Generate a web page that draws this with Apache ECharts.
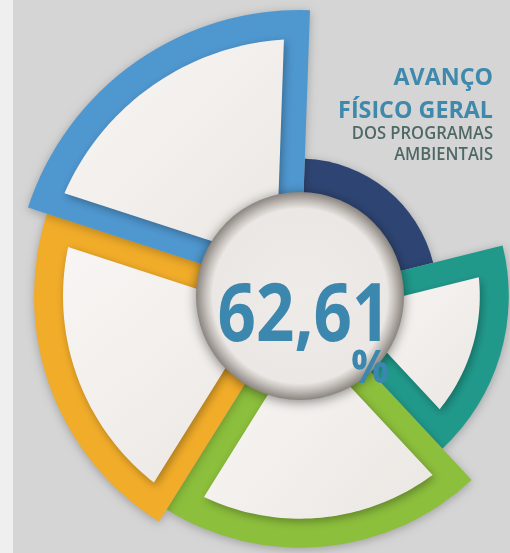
<!DOCTYPE html>
<html>
<head>
<meta charset="utf-8">
<script src="https://cdn.jsdelivr.net/npm/echarts@6/dist/echarts.min.js"></script>
<style>
  html, body { margin: 0; padding: 0; background: #d5d5d5; }
  #chart { width: 510px; height: 553px; }
</style>
</head>
<body>
<div id="chart"></div>
<script>
// angular share of each program (degrees, clockwise from the top)
const shares = [74, 61, 75, 76, 74];
// radial length of each program (0..100)
const progress = [48, 73, 88, 93, 100];
// overall value shown in the middle
const overall = 62.61;

const titleLines = ['AVANÇO', 'FÍSICO GERAL'];
const subtitleLines = ['DOS PROGRAMAS', 'AMBIENTAIS'];

// styles
const colors = ['#2e4573', '#20998b', '#8cbf3c', '#f1ac29', '#4f97cf'];
const CENTER = [300, 296];
const OUTER_R = 286;
const HUB_R = 104;
const RIM = 29;   // coloured band along the arc
const SIDE = 25;  // coloured band along the straight edges

const chart = echarts.init(document.getElementById('chart'));

// build [start, end, progress] rows from the arrays
let acc = 0;
const rows = shares.map((s, i) => {
  const row = [acc, acc + s, progress[i]];
  acc += s;
  return row;
});

function renderItem(params, api) {
  const cx = params.coordSys.cx, cy = params.coordSys.cy;
  const rv = api.value(2);
  const pS = api.coord([rv, api.value(0)]);
  const pE = api.coord([rv, api.value(1)]);
  const r = Math.hypot(pS[0] - cx, pS[1] - cy);
  const ts = Math.atan2(pS[1] - cy, pS[0] - cx);
  let te = Math.atan2(pE[1] - cy, pE[0] - cx);
  while (te <= ts) te += Math.PI * 2;
  const color = colors[params.dataIndex];

  const children = [{
    type: 'sector',
    shape: { cx: cx, cy: cy, r0: 0, r: r, startAngle: ts, endAngle: te, clockwise: true },
    style: { fill: color, shadowBlur: 10, shadowColor: 'rgba(0,0,0,0.25)', shadowOffsetY: 2 }
  }];

  // light inset face of the sector
  const ri = r - RIM;
  if (ri > HUB_R + 8) {
    const half = (te - ts) / 2;
    const d = SIDE / Math.sin(half);
    const mid = ts + half;
    const pts = [[cx + d * Math.cos(mid), cy + d * Math.sin(mid)]];
    const a0 = ts + Math.asin(SIDE / ri);
    const a1 = te - Math.asin(SIDE / ri);
    const n = 48;
    for (let k = 0; k <= n; k++) {
      const a = a0 + (a1 - a0) * k / n;
      pts.push([cx + ri * Math.cos(a), cy + ri * Math.sin(a)]);
    }
    children.push({
      type: 'polygon',
      shape: { points: pts },
      style: {
        fill: new echarts.graphic.LinearGradient(0, 0, 1, 1, [
          { offset: 0, color: '#f8f6f4' },
          { offset: 1, color: '#ebe7e3' }
        ]),
        shadowBlur: 8,
        shadowColor: 'rgba(0,0,0,0.3)',
        shadowOffsetX: 2,
        shadowOffsetY: 3
      }
    });
  }
  return { type: 'group', children: children };
}

const fmt = overall.toFixed(2).replace('.', ',');

function label(text, x, y, font, fill, align, sx) {
  return {
    type: 'text',
    x: x, y: y, scaleX: sx, z: 10,
    style: { text: text, font: font, fill: fill, textAlign: align, textVerticalAlign: 'bottom' }
  };
}

chart.setOption({
  backgroundColor: '#d5d5d5',
  polar: { center: CENTER, radius: [0, OUTER_R] },
  angleAxis: { type: 'value', min: 0, max: acc, startAngle: 88, clockwise: true, show: false },
  radiusAxis: { type: 'value', min: 0, max: 100, show: false },
  series: [{
    type: 'custom',
    coordinateSystem: 'polar',
    renderItem: renderItem,
    encode: { radius: 2, angle: [0, 1] },
    data: rows,
    animation: false
  }],
  graphic: [
    { type: 'rect', shape: { x: 0, y: 0, width: 13, height: 553 }, style: { fill: '#efefef' }, z: 1 },
    {
      type: 'circle', z: 5,
      shape: { cx: CENTER[0], cy: CENTER[1], r: HUB_R },
      style: {
        fill: new echarts.graphic.RadialGradient(0.5, 0.5, 0.5, [
          { offset: 0, color: '#efebe8' },
          { offset: 0.84, color: '#ebe7e4' },
          { offset: 0.91, color: '#c4bfba' },
          { offset: 1, color: '#8a847f' }
        ]),
        shadowBlur: 12,
        shadowColor: 'rgba(0,0,0,0.45)',
        shadowOffsetY: 2
      }
    },
    label(fmt, 304, 358, 'bold 80px "Open Sans"', '#3c87ad', 'center', 0.84),
    label('%', 370, 393, 'bold 46px "Open Sans"', '#3c87ad', 'center', 0.92),
    label(titleLines[0], 493, 90, 'bold 24px "Open Sans"', '#3e89ac', 'right', 0.97),
    label(titleLines[1], 493, 123, 'bold 24px "Open Sans"', '#3e89ac', 'right', 0.97),
    label(subtitleLines[0], 493, 143, '600 18px "Open Sans"', '#4f6866', 'right', 0.92),
    label(subtitleLines[1], 493, 164, '600 18px "Open Sans"', '#4f6866', 'right', 0.92)
  ]
});
</script>
</body>
</html>
